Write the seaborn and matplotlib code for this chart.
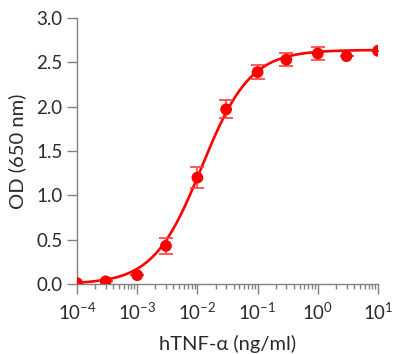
import numpy as np
import pandas as pd
import seaborn as sns
import matplotlib.pyplot as plt
from matplotlib.ticker import FixedLocator, NullFormatter

# data
conc = [1e-4, 3e-4, 1e-3, 3e-3, 1e-2, 3e-2, 1e-1, 3e-1, 1, 3, 10]
od = [0.01, 0.03, 0.10, 0.43, 1.20, 1.97, 2.39, 2.53, 2.60, 2.57, 2.63]
od_err = [0, 0, 0, 0.09, 0.12, 0.10, 0.08, 0.07, 0.07, 0, 0]

x_ticks = [1e-4, 1e-3, 1e-2, 1e-1, 1, 10]
x_ticklabels = [r"$10^{-4}$", r"$10^{-3}$", r"$10^{-2}$", r"$10^{-1}$", r"$10^{0}$", r"$10^{1}$"]
y_ticks = [0, 0.5, 1.0, 1.5, 2.0, 2.5, 3.0]
y_ticklabels = ["0.0", "0.5", "1.0", "1.5", "2.0", "2.5", "3.0"]

# 4-parameter logistic fit, parameters estimated from the drawn curve
fit_bottom = 0.0
fit_top = 2.64
fit_ec50 = 0.0118
fit_hill = 1.08

sns.set_style("ticks")
plt.rcParams['font.family'] = ['Lato', 'DejaVu Sans']
plt.rcParams['mathtext.fontset'] = 'custom'
plt.rcParams['mathtext.rm'] = 'Lato'
plt.rcParams['mathtext.it'] = 'Lato'
plt.rcParams['mathtext.default'] = 'regular'

df = pd.DataFrame({"conc": conc, "od": od, "err": od_err})
x_fit = np.logspace(-4, 1, 300)
y_fit = fit_bottom + (fit_top - fit_bottom) / (1 + (fit_ec50 / x_fit) ** fit_hill)
fit = pd.DataFrame({"conc": x_fit, "od": y_fit})

fig = plt.figure(figsize=(4, 3.54), dpi=100)
ax = fig.add_axes([0.1925, 0.1977, 0.7525, 0.7514])

sns.lineplot(data=fit, x="conc", y="od", color="#ff0000", linewidth=1.9, ax=ax)
plt.errorbar(df["conc"], df["od"], yerr=df["err"], fmt="none",
             ecolor="#ff4040", elinewidth=1.2, capsize=5, capthick=1.2)
sns.scatterplot(data=df, x="conc", y="od", color="#ff0000", s=72,
                edgecolor="none", zorder=5, ax=ax)

ax.set_xscale("log")
ax.set_xlim(1e-4, 10)
ax.set_ylim(0, 3.0)
ax.set_yticks(y_ticks)
ax.set_yticklabels(y_ticklabels)
ax.set_xticks(x_ticks)
ax.set_xticklabels(x_ticklabels)
minor = [m * d for d in [1e-4, 1e-3, 1e-2, 1e-1, 1] for m in range(2, 10)]
ax.xaxis.set_minor_locator(FixedLocator(minor))
ax.xaxis.set_minor_formatter(NullFormatter())

for side in ["top", "right"]:
    ax.spines[side].set_visible(False)
for side in ["left", "bottom"]:
    ax.spines[side].set_color("#808080")
    ax.spines[side].set_linewidth(1.0)

ax.tick_params(axis="both", which="major", length=7.5, width=1.0, color="#808080",
               labelsize=13.5, labelcolor="#2a2a2a", pad=3)
ax.tick_params(axis="x", which="major", pad=5)
ax.tick_params(axis="x", which="minor", length=3.6, width=1.0, color="#808080")

ax.set_xlabel("hTNF-α (ng/ml)", fontsize=14.5, color="#2a2a2a", labelpad=9)
ax.set_ylabel("OD (650 nm)", fontsize=14.5, color="#2a2a2a", labelpad=7)

fig.savefig("out.png", dpi=100)
